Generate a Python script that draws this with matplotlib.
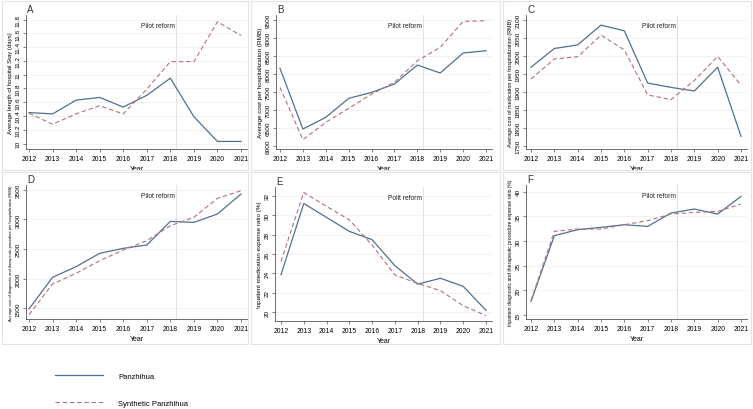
import numpy as np
import matplotlib
matplotlib.use("Agg")
import matplotlib.pyplot as plt
from matplotlib.patches import Rectangle

plt.rcParams['font.family'] = ['Liberation Sans', 'DejaVu Sans']

years = [2012, 2013, 2014, 2015, 2016, 2017, 2018, 2019, 2020, 2021]

# A - average length of stay (days)
stay_real = [10.45, 10.43, 10.63, 10.67, 10.53, 10.70, 10.95, 10.39, 10.03, 10.03]
stay_synth = [10.44, 10.28, 10.43, 10.55, 10.43, 10.79, 11.19, 11.19, 11.77, 11.57]

# B - average cost per hospitalization (RMB)
cost_real = [8148, 6463, 6787, 7315, 7481, 7713, 8241, 8019, 8574, 8639]
cost_synth = [7620, 6167, 6648, 7037, 7435, 7759, 8361, 8731, 9454, 9472]

# C - average cost of medication per hospitalization (RMB)
med_real = [1968, 2020, 2030, 2085, 2069, 1924, 1912, 1902, 1968, 1776]
med_synth = [1935, 1991, 1997, 2057, 2016, 1891, 1878, 1931, 1998, 1918]

# D - diagnostic and therapeutic procedure cost (RMB)
proc_real = [1489, 2022, 2202, 2427, 2511, 2567, 2966, 2949, 3090, 3427]
proc_synth = [1393, 1910, 2090, 2303, 2483, 2640, 2893, 3034, 3354, 3483]

# E - medication expense ratio (%)
medratio_real = [23.87, 31.2, 29.77, 28.33, 27.47, 24.8, 22.9, 23.5, 22.67, 20.2]
medratio_synth = [25.24, 32.33, 30.9, 29.52, 26.92, 23.84, 22.98, 22.23, 20.68, 19.66]

# F - procedure expense ratio (%)
procratio_real = [17.77, 31.08, 32.3, 32.77, 33.3, 32.97, 35.68, 36.49, 35.47, 39.05]
procratio_synth = [17.9, 31.96, 32.43, 32.43, 33.3, 34.12, 35.47, 35.81, 36.0, 37.5]

W, H = 753, 410
fig = plt.figure(figsize=(W / 100, H / 100), dpi=100)

solid_col = '#4f7190'
dash_col = '#b5707a'

# panel spec: letter, real, synth, ylabel, ylabel size, ticks, tick labels,
# axis px (x at 2012, x at 2021, y of first tick, y of last tick, left, bottom, top), note
panels = [
    ('A', stay_real, stay_synth, 'Average length of hospital Stay (days)', 4.3,
     [10, 10.2, 10.4, 10.6, 10.8, 11, 11.2, 11.4, 11.6, 11.8],
     ['10', '10.2', '10.4', '10.6', '10.8', '11', '11.2', '11.4', '11.6', '11.8'],
     (29, 241, 144.5, 20.7, 26, 150, 16), 'Pilot reform'),
    ('B', cost_real, cost_synth, 'Average cost per hospitalization (RMB)', 4.6,
     [6000, 6500, 7000, 7500, 8000, 8500, 9000, 9500],
     ['6000', '6500', '7000', '7500', '8000', '8500', '9000', '9500'],
     (280, 486, 146.7, 20.7, 276, 150, 16), 'Pilot reform'),
    ('C', med_real, med_synth, 'Average cost of medication per hospitalization (RMB)', 3.9,
     [1750, 1800, 1850, 1900, 1950, 2000, 2050, 2100],
     ['1750', '1800', '1850', '1900', '1950', '2000', '2050', '2100'],
     (531, 741, 146.7, 20.7, 526, 150, 16), 'Pilot reform'),
    ('D', proc_real, proc_synth,
     'Average cost of diagnostic and therapeutic procedure per hospitalization (RMB)', 2.8,
     [1500, 2000, 2500, 3000, 3500],
     ['1500', '2000', '2500', '3000', '3500'],
     (29, 241, 309.3, 190.7, 26, 320, 186), 'Pilot reform'),
    ('E', medratio_real, medratio_synth, 'Inpatient medication expense ratio (%)', 4.5,
     [20, 22, 24, 26, 28, 30, 32],
     ['20', '22', '24', '26', '28', '30', '32'],
     (281, 486, 313.3, 196.7, 275, 322, 188), 'Polit reform'),
    ('F', procratio_real, procratio_synth,
     'Inpatient diagnostic and therapeutic procedure expense ratio (%)', 3.6,
     [15, 20, 25, 30, 35, 40],
     ['15', '20', '25', '30', '35', '40'],
     (531, 741, 316, 192.7, 526, 320, 186), 'Pilot reform'),
]

# panel frames
for (x0, y0, x1, y1) in [(2, 2, 248, 171), (251, 2, 500, 171), (503, 2, 751, 171),
                         (2, 173, 248, 345), (251, 173, 500, 345), (503, 173, 751, 345)]:
    fig.patches.append(Rectangle((x0 / W, 1 - y1 / H), (x1 - x0) / W, (y1 - y0) / H,
                                 transform=fig.transFigure, fill=False,
                                 edgecolor='#e3e3e3', linewidth=0.8))

lines = []
for letter, real, synth, ylab, ylfs, ticks, tlabels, px, note in panels:
    xa, xb, ya, yb, left, bottom, top = px
    right = xb + 6
    ax = fig.add_axes([left / W, 1 - bottom / H, (right - left) / W, (bottom - top) / H])
    # map pixels to data
    xs = (xb - xa) / 9.0
    ax.set_xlim(2012 + (left - xa) / xs, 2021 + (right - xb) / xs)
    ys = (ticks[-1] - ticks[0]) / (ya - yb)
    ax.set_ylim(ticks[0] - (bottom - ya) * ys, ticks[-1] + (yb - top) * ys)

    ax.yaxis.grid(True, color='#f0f0f0', linewidth=0.6)
    ax.set_axisbelow(True)
    ax.axvline(2018.25, color='#dddddd', linewidth=0.6)
    l1, = ax.plot(years, real, color=solid_col, linewidth=0.9, label='Panzhihua')
    l2, = ax.plot(years, synth, color=dash_col, linewidth=0.8, dashes=(4, 2.5),
                  label='Synthetic Panzhihua')
    lines = [l1, l2]

    ax.set_xticks(years)
    ax.set_xticklabels([str(y) for y in years], fontsize=4.9)
    ax.set_yticks(ticks)
    ax.set_yticklabels(tlabels, fontsize=4.6, rotation=90, va='center')
    ax.tick_params(axis='both', length=2.5, width=0.5, color='#555555', pad=1.5)
    ax.set_xlabel('Year', fontsize=5.0, labelpad=2.5)
    ax.set_ylabel(ylab, fontsize=ylfs, labelpad=2.0)
    for s in ['top', 'right']:
        ax.spines[s].set_visible(False)
    for s in ['left', 'bottom']:
        ax.spines[s].set_linewidth(0.6)
        ax.spines[s].set_color('#555555')

    ax.text(2018.2, 1 - 11 / (bottom - top), note, transform=ax.get_xaxis_transform(),
            ha='right', va='center', fontsize=4.8, color='#222222')
    fig.text((left + 1) / W, 1 - (top - 6) / H, letter, fontsize=7.0, color='#333333',
             ha='left', va='center')

fig.legend(lines, ['Panzhihua', 'Synthetic Panzhihua'], loc='center left',
           bbox_to_anchor=(48 / W, 1 - 390.5 / H), frameon=False, fontsize=5.5,
           handlelength=6.3, handletextpad=2.0, labelspacing=2.6)

fig.savefig('out.png', dpi=100)
